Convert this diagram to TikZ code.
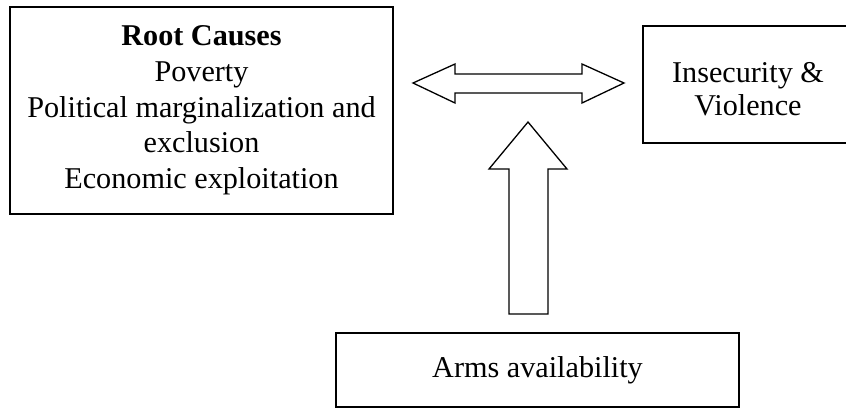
\documentclass[tikz,border=0pt]{standalone}
\usepackage{fontspec}
\setmainfont{Liberation Serif}
\tikzset{
  boxnode/.style={draw, line width=1.6pt, rectangle, inner sep=0pt, align=center},
  txt/.style={inner sep=0pt, font=\fontsize{30.2}{35.7}\selectfont},
  blockarrow/.style={draw, line width=1.3pt, line join=miter, fill=white}
}
\begin{document}
\begin{tikzpicture}[x=1pt, y=-1pt]
\clip (0,0) rectangle (846,408);
\fill[white] (0,0) rectangle (846,408);
% left box
\node[boxnode, txt, minimum width=383pt, minimum height=207pt] (root) at (201.5,110.5)
  {\textbf{Root Causes}\\Poverty\\Political marginalization and\\exclusion\\Economic exploitation};
% right box (clipped at the right)
\node[boxnode, minimum width=212pt, minimum height=117pt] (insec) at (749,84.5) {};
\node[txt, anchor=base] (insecA) at (748,82) {Insecurity \&};
\node[txt, anchor=base] (insecB) at (748,115) {Violence};
% bottom box
\node[boxnode, txt, minimum width=403pt, minimum height=74pt] (arms) at (537.5,370) {Arms availability};
% double block arrow
\coordinate (dl) at (413,83);
\coordinate (dr) at (624,83);
\draw[blockarrow] (dl) -- (455,64) -- (455,74) -- (582,74) -- (582,64) -- (dr)
  -- (582,103) -- (582,93) -- (455,93) -- (455,103) -- cycle;
% upward block arrow
\coordinate (ut) at (528,122);
\draw[blockarrow] (ut) -- (567,169) -- (548,169) -- (548,314) -- (509,314)
  -- (509,169) -- (489,169) -- cycle;
\end{tikzpicture}
\end{document}
